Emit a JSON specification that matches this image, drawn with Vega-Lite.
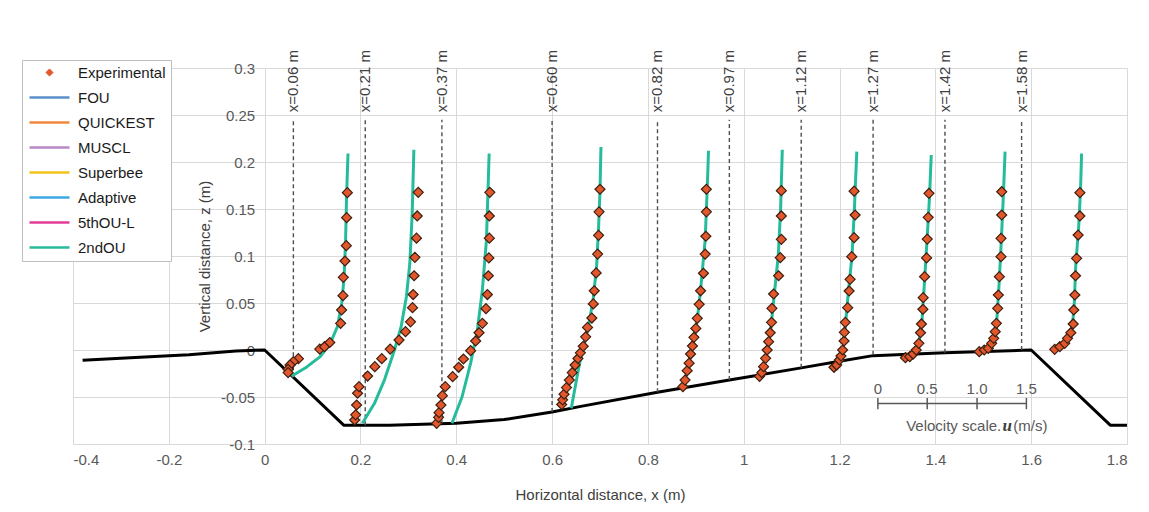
{
  "$schema": "https://vega.github.io/schema/vega-lite/v6.json",
  "width": 1054,
  "height": 376,
  "autosize": {"type": "none"},
  "padding": {"left": 73, "top": 68, "right": 22, "bottom": 68},
  "background": "white",
  "config": {
    "view": {"stroke": null},
    "font": "Liberation Sans",
    "axis": {"labelFont": "Liberation Sans", "titleFont": "Liberation Sans", "labelFontSize": 15, "titleFontSize": 15, "titleFontWeight": "normal", "labelColor": "#595959", "titleColor": "#404040", "gridColor": "#d9d9d9", "gridWidth": 1, "domain": false, "ticks": false}
  },
  "datasets": {
    "bed": [
      {"x": -0.38, "z": -0.011}, {"x": -0.25, "z": -0.0075}, {"x": -0.158, "z": -0.005}, {"x": -0.06, "z": -0.001}, {"x": 0.0, "z": 0.0},
      {"x": 0.165, "z": -0.08}, {"x": 0.26, "z": -0.08}, {"x": 0.4, "z": -0.078}, {"x": 0.5, "z": -0.074}, {"x": 0.6, "z": -0.066},
      {"x": 0.66, "z": -0.06}, {"x": 0.82, "z": -0.045}, {"x": 0.97, "z": -0.032}, {"x": 1.12, "z": -0.019}, {"x": 1.2, "z": -0.012},
      {"x": 1.27, "z": -0.006}, {"x": 1.42, "z": -0.003}, {"x": 1.6, "z": 0.0}, {"x": 1.765, "z": -0.08}, {"x": 1.8, "z": -0.08}
    ],
    "stations": [
      {"station": 0.06, "zb": -0.029, "label": "x=0.06 m"},
      {"station": 0.21, "zb": -0.08, "label": "x=0.21 m"},
      {"station": 0.37, "zb": -0.078, "label": "x=0.37 m"},
      {"station": 0.6, "zb": -0.066, "label": "x=0.60 m"},
      {"station": 0.82, "zb": -0.045, "label": "x=0.82 m"},
      {"station": 0.97, "zb": -0.032, "label": "x=0.97 m"},
      {"station": 1.12, "zb": -0.019, "label": "x=1.12 m"},
      {"station": 1.27, "zb": -0.005, "label": "x=1.27 m"},
      {"station": 1.42, "zb": -0.003, "label": "x=1.42 m"},
      {"station": 1.58, "zb": 0.0, "label": "x=1.58 m"}
    ],
    "vscale": [
      {"u": "0", "x": 1.28}, {"u": "0.5", "x": 1.383}, {"u": "1.0", "x": 1.487}, {"u": "1.5", "x": 1.59}
    ],
    "model": [
      {"s": "0.06", "x": 0.056, "z": -0.028}, {"s": "0.06", "x": 0.088, "z": -0.018}, {"s": "0.06", "x": 0.116, "z": -0.007}, {"s": "0.06", "x": 0.137, "z": 0.007}, {"s": "0.06", "x": 0.152, "z": 0.025}, {"s": "0.06", "x": 0.161, "z": 0.05}, {"s": "0.06", "x": 0.166, "z": 0.078}, {"s": "0.06", "x": 0.169, "z": 0.117}, {"s": "0.06", "x": 0.171, "z": 0.163}, {"s": "0.06", "x": 0.174, "z": 0.209},
      {"s": "0.21", "x": 0.204, "z": -0.078}, {"s": "0.21", "x": 0.229, "z": -0.057}, {"s": "0.21", "x": 0.25, "z": -0.032}, {"s": "0.21", "x": 0.271, "z": 0.0}, {"s": "0.21", "x": 0.285, "z": 0.025}, {"s": "0.21", "x": 0.296, "z": 0.057}, {"s": "0.21", "x": 0.303, "z": 0.092}, {"s": "0.21", "x": 0.308, "z": 0.145}, {"s": "0.21", "x": 0.3115, "z": 0.213},
      {"s": "0.37", "x": 0.391, "z": -0.078}, {"s": "0.37", "x": 0.412, "z": -0.05}, {"s": "0.37", "x": 0.43, "z": -0.014}, {"s": "0.37", "x": 0.444, "z": 0.021}, {"s": "0.37", "x": 0.4545, "z": 0.064}, {"s": "0.37", "x": 0.463, "z": 0.117}, {"s": "0.37", "x": 0.4686, "z": 0.209},
      {"s": "0.60", "x": 0.64, "z": -0.062}, {"s": "0.60", "x": 0.648, "z": -0.04}, {"s": "0.60", "x": 0.657, "z": -0.015}, {"s": "0.60", "x": 0.666, "z": 0.005}, {"s": "0.60", "x": 0.676, "z": 0.025}, {"s": "0.60", "x": 0.686, "z": 0.055}, {"s": "0.60", "x": 0.693, "z": 0.09}, {"s": "0.60", "x": 0.697, "z": 0.13}, {"s": "0.60", "x": 0.7, "z": 0.17}, {"s": "0.60", "x": 0.702, "z": 0.216},
      {"s": "0.82", "x": 0.8725, "z": -0.041}, {"s": "0.82", "x": 0.882, "z": -0.022}, {"s": "0.82", "x": 0.893, "z": 0.0035}, {"s": "0.82", "x": 0.903, "z": 0.032}, {"s": "0.82", "x": 0.91, "z": 0.064}, {"s": "0.82", "x": 0.9195, "z": 0.117}, {"s": "0.82", "x": 0.924, "z": 0.174}, {"s": "0.82", "x": 0.9265, "z": 0.212},
      {"s": "0.97", "x": 1.026, "z": -0.0296}, {"s": "0.97", "x": 1.04, "z": -0.018}, {"s": "0.97", "x": 1.05, "z": 0.0}, {"s": "0.97", "x": 1.057, "z": 0.025}, {"s": "0.97", "x": 1.064, "z": 0.06}, {"s": "0.97", "x": 1.072, "z": 0.1}, {"s": "0.97", "x": 1.077, "z": 0.15}, {"s": "0.97", "x": 1.0805, "z": 0.213},
      {"s": "1.12", "x": 1.186, "z": -0.019}, {"s": "1.12", "x": 1.198, "z": -0.011}, {"s": "1.12", "x": 1.207, "z": 0.0}, {"s": "1.12", "x": 1.212, "z": 0.025}, {"s": "1.12", "x": 1.218, "z": 0.06}, {"s": "1.12", "x": 1.226, "z": 0.1}, {"s": "1.12", "x": 1.231, "z": 0.15}, {"s": "1.12", "x": 1.236, "z": 0.211},
      {"s": "1.27", "x": 1.34, "z": -0.007}, {"s": "1.27", "x": 1.355, "z": -0.003}, {"s": "1.27", "x": 1.365, "z": 0.006}, {"s": "1.27", "x": 1.372, "z": 0.03}, {"s": "1.27", "x": 1.377, "z": 0.07}, {"s": "1.27", "x": 1.383, "z": 0.12}, {"s": "1.27", "x": 1.388, "z": 0.165}, {"s": "1.27", "x": 1.3914, "z": 0.2074},
      {"s": "1.42", "x": 1.494, "z": -0.002}, {"s": "1.42", "x": 1.508, "z": 0.002}, {"s": "1.42", "x": 1.52, "z": 0.012}, {"s": "1.42", "x": 1.528, "z": 0.03}, {"s": "1.42", "x": 1.533, "z": 0.07}, {"s": "1.42", "x": 1.538, "z": 0.12}, {"s": "1.42", "x": 1.542, "z": 0.165}, {"s": "1.42", "x": 1.5455, "z": 0.211},
      {"s": "1.58", "x": 1.677, "z": 0.012}, {"s": "1.58", "x": 1.686, "z": 0.025}, {"s": "1.58", "x": 1.69, "z": 0.05}, {"s": "1.58", "x": 1.693, "z": 0.09}, {"s": "1.58", "x": 1.699, "z": 0.13}, {"s": "1.58", "x": 1.703, "z": 0.17}, {"s": "1.58", "x": 1.7052, "z": 0.209}
    ],
    "exp": [
      {"s": "0.06", "x": 0.0705, "z": -0.0092}, {"s": "0.06", "x": 0.06, "z": -0.0124}, {"s": "0.06", "x": 0.053, "z": -0.016}, {"s": "0.06", "x": 0.049, "z": -0.0206}, {"s": "0.06", "x": 0.049, "z": -0.024}, {"s": "0.06", "x": 0.115, "z": 0.001}, {"s": "0.06", "x": 0.125, "z": 0.0035}, {"s": "0.06", "x": 0.136, "z": 0.008}, {"s": "0.06", "x": 0.1586, "z": 0.0284}, {"s": "0.06", "x": 0.1607, "z": 0.0426}, {"s": "0.06", "x": 0.1635, "z": 0.0578}, {"s": "0.06", "x": 0.1642, "z": 0.0773}, {"s": "0.06", "x": 0.1677, "z": 0.0947}, {"s": "0.06", "x": 0.1705, "z": 0.111}, {"s": "0.06", "x": 0.1712, "z": 0.1408}, {"s": "0.06", "x": 0.1727, "z": 0.1674},
      {"s": "0.21", "x": 0.188, "z": -0.0745}, {"s": "0.21", "x": 0.19, "z": -0.069}, {"s": "0.21", "x": 0.192, "z": -0.0585}, {"s": "0.21", "x": 0.194, "z": -0.046}, {"s": "0.21", "x": 0.197, "z": -0.039}, {"s": "0.21", "x": 0.215, "z": -0.0277}, {"s": "0.21", "x": 0.23, "z": -0.0177}, {"s": "0.21", "x": 0.2445, "z": -0.0092}, {"s": "0.21", "x": 0.262, "z": 0.001}, {"s": "0.21", "x": 0.2805, "z": 0.0106}, {"s": "0.21", "x": 0.294, "z": 0.0195}, {"s": "0.21", "x": 0.3045, "z": 0.03}, {"s": "0.21", "x": 0.3087, "z": 0.045}, {"s": "0.21", "x": 0.31, "z": 0.059}, {"s": "0.21", "x": 0.312, "z": 0.079}, {"s": "0.21", "x": 0.3136, "z": 0.0986}, {"s": "0.21", "x": 0.317, "z": 0.119}, {"s": "0.21", "x": 0.3185, "z": 0.1426}, {"s": "0.21", "x": 0.3206, "z": 0.1677},
      {"s": "0.37", "x": 0.359, "z": -0.078}, {"s": "0.37", "x": 0.363, "z": -0.0716}, {"s": "0.37", "x": 0.364, "z": -0.0667}, {"s": "0.37", "x": 0.368, "z": -0.0585}, {"s": "0.37", "x": 0.371, "z": -0.0486}, {"s": "0.37", "x": 0.377, "z": -0.039}, {"s": "0.37", "x": 0.3925, "z": -0.0284}, {"s": "0.37", "x": 0.405, "z": -0.0184}, {"s": "0.37", "x": 0.415, "z": -0.0096}, {"s": "0.37", "x": 0.43, "z": -0.0007}, {"s": "0.37", "x": 0.4405, "z": 0.0096}, {"s": "0.37", "x": 0.4475, "z": 0.0184}, {"s": "0.37", "x": 0.4545, "z": 0.0284}, {"s": "0.37", "x": 0.462, "z": 0.044}, {"s": "0.37", "x": 0.465, "z": 0.059}, {"s": "0.37", "x": 0.467, "z": 0.079}, {"s": "0.37", "x": 0.468, "z": 0.098}, {"s": "0.37", "x": 0.469, "z": 0.119}, {"s": "0.37", "x": 0.469, "z": 0.1426}, {"s": "0.37", "x": 0.47, "z": 0.1677},
      {"s": "0.60", "x": 0.62, "z": -0.058}, {"s": "0.60", "x": 0.622, "z": -0.053}, {"s": "0.60", "x": 0.625, "z": -0.047}, {"s": "0.60", "x": 0.63, "z": -0.04}, {"s": "0.60", "x": 0.636, "z": -0.032}, {"s": "0.60", "x": 0.642, "z": -0.024}, {"s": "0.60", "x": 0.648, "z": -0.016}, {"s": "0.60", "x": 0.654, "z": -0.009}, {"s": "0.60", "x": 0.659, "z": -0.003}, {"s": "0.60", "x": 0.665, "z": 0.004}, {"s": "0.60", "x": 0.67, "z": 0.014}, {"s": "0.60", "x": 0.674, "z": 0.024}, {"s": "0.60", "x": 0.683, "z": 0.034}, {"s": "0.60", "x": 0.686, "z": 0.049}, {"s": "0.60", "x": 0.688, "z": 0.063}, {"s": "0.60", "x": 0.692, "z": 0.082}, {"s": "0.60", "x": 0.695, "z": 0.102}, {"s": "0.60", "x": 0.697, "z": 0.122}, {"s": "0.60", "x": 0.698, "z": 0.147}, {"s": "0.60", "x": 0.7, "z": 0.171},
      {"s": "0.82", "x": 0.873, "z": -0.039}, {"s": "0.82", "x": 0.8775, "z": -0.032}, {"s": "0.82", "x": 0.882, "z": -0.022}, {"s": "0.82", "x": 0.886, "z": -0.014}, {"s": "0.82", "x": 0.889, "z": -0.0043}, {"s": "0.82", "x": 0.893, "z": 0.0043}, {"s": "0.82", "x": 0.896, "z": 0.0135}, {"s": "0.82", "x": 0.9, "z": 0.023}, {"s": "0.82", "x": 0.903, "z": 0.0337}, {"s": "0.82", "x": 0.907, "z": 0.0486}, {"s": "0.82", "x": 0.91, "z": 0.063}, {"s": "0.82", "x": 0.916, "z": 0.0816}, {"s": "0.82", "x": 0.9195, "z": 0.102}, {"s": "0.82", "x": 0.921, "z": 0.121}, {"s": "0.82", "x": 0.922, "z": 0.147}, {"s": "0.82", "x": 0.922, "z": 0.171},
      {"s": "0.97", "x": 1.033, "z": -0.028}, {"s": "0.97", "x": 1.0378, "z": -0.024}, {"s": "0.97", "x": 1.0414, "z": -0.0177}, {"s": "0.97", "x": 1.0456, "z": -0.0089}, {"s": "0.97", "x": 1.049, "z": 0.0}, {"s": "0.97", "x": 1.052, "z": 0.0089}, {"s": "0.97", "x": 1.0553, "z": 0.0184}, {"s": "0.97", "x": 1.058, "z": 0.0294}, {"s": "0.97", "x": 1.0588, "z": 0.0443}, {"s": "0.97", "x": 1.0623, "z": 0.0596}, {"s": "0.97", "x": 1.0728, "z": 0.079}, {"s": "0.97", "x": 1.0763, "z": 0.0982}, {"s": "0.97", "x": 1.0785, "z": 0.1177}, {"s": "0.97", "x": 1.0785, "z": 0.1426}, {"s": "0.97", "x": 1.0785, "z": 0.1695},
      {"s": "1.12", "x": 1.1884, "z": -0.0184}, {"s": "1.12", "x": 1.194, "z": -0.016}, {"s": "1.12", "x": 1.1996, "z": -0.0106}, {"s": "1.12", "x": 1.203, "z": -0.0064}, {"s": "1.12", "x": 1.2065, "z": 0.0}, {"s": "1.12", "x": 1.2095, "z": 0.0096}, {"s": "1.12", "x": 1.21, "z": 0.0188}, {"s": "1.12", "x": 1.212, "z": 0.0294}, {"s": "1.12", "x": 1.217, "z": 0.045}, {"s": "1.12", "x": 1.22, "z": 0.0628}, {"s": "1.12", "x": 1.222, "z": 0.0752}, {"s": "1.12", "x": 1.2255, "z": 0.0993}, {"s": "1.12", "x": 1.2304, "z": 0.1195}, {"s": "1.12", "x": 1.2325, "z": 0.1436}, {"s": "1.12", "x": 1.2304, "z": 0.169},
      {"s": "1.27", "x": 1.3375, "z": -0.0082}, {"s": "1.27", "x": 1.3466, "z": -0.0071}, {"s": "1.27", "x": 1.3536, "z": -0.0043}, {"s": "1.27", "x": 1.36, "z": 0.0}, {"s": "1.27", "x": 1.3655, "z": 0.0071}, {"s": "1.27", "x": 1.369, "z": 0.0184}, {"s": "1.27", "x": 1.371, "z": 0.0277}, {"s": "1.27", "x": 1.374, "z": 0.0433}, {"s": "1.27", "x": 1.3746, "z": 0.0557}, {"s": "1.27", "x": 1.3775, "z": 0.078}, {"s": "1.27", "x": 1.3817, "z": 0.098}, {"s": "1.27", "x": 1.383, "z": 0.118}, {"s": "1.27", "x": 1.385, "z": 0.1411}, {"s": "1.27", "x": 1.3866, "z": 0.1667},
      {"s": "1.42", "x": 1.4916, "z": -0.0018}, {"s": "1.42", "x": 1.502, "z": 0.0}, {"s": "1.42", "x": 1.5105, "z": 0.0018}, {"s": "1.42", "x": 1.5175, "z": 0.0071}, {"s": "1.42", "x": 1.5217, "z": 0.0124}, {"s": "1.42", "x": 1.525, "z": 0.0195}, {"s": "1.42", "x": 1.5273, "z": 0.0284}, {"s": "1.42", "x": 1.53, "z": 0.0443}, {"s": "1.42", "x": 1.5315, "z": 0.0585}, {"s": "1.42", "x": 1.5336, "z": 0.078}, {"s": "1.42", "x": 1.537, "z": 0.0993}, {"s": "1.42", "x": 1.537, "z": 0.1188}, {"s": "1.42", "x": 1.5385, "z": 0.1436}, {"s": "1.42", "x": 1.5385, "z": 0.1684},
      {"s": "1.58", "x": 1.649, "z": 0.0007}, {"s": "1.58", "x": 1.6597, "z": 0.0035}, {"s": "1.58", "x": 1.67, "z": 0.0071}, {"s": "1.58", "x": 1.6758, "z": 0.0124}, {"s": "1.58", "x": 1.6828, "z": 0.0184}, {"s": "1.58", "x": 1.6877, "z": 0.0277}, {"s": "1.58", "x": 1.689, "z": 0.0426}, {"s": "1.58", "x": 1.6912, "z": 0.0585}, {"s": "1.58", "x": 1.6926, "z": 0.079}, {"s": "1.58", "x": 1.6947, "z": 0.0975}, {"s": "1.58", "x": 1.698, "z": 0.1223}, {"s": "1.58", "x": 1.7017, "z": 0.1426}, {"s": "1.58", "x": 1.7017, "z": 0.1674}
    ]
  },
  "layer": [
    {
      "data": {"name": "bed"},
      "mark": {"type": "line", "color": "#000000", "strokeWidth": 3, "strokeJoin": "round"},
      "encoding": {
        "x": {"field": "x", "type": "quantitative", "scale": {"domain": [-0.4, 1.8], "nice": false, "zero": false},
          "axis": {"values": [-0.4, -0.2, 0, 0.2, 0.4, 0.6, 0.8, 1, 1.2, 1.4, 1.6, 1.8], "labelExpr": "'' + datum.value", "grid": true, "labelPadding": 8, "title": "Horizontal distance, x (m)", "titlePadding": 20}},
        "y": {"field": "z", "type": "quantitative", "scale": {"domain": [-0.1, 0.3], "nice": false, "zero": false},
          "axis": {"values": [-0.1, -0.05, 0, 0.05, 0.1, 0.15, 0.2, 0.25, 0.3], "labelExpr": "'' + datum.value", "grid": true, "offset": -191.6, "labelPadding": 10, "title": "Vertical distance, z (m)", "titlePadding": 8}},
        "order": {"field": "x", "type": "quantitative"}
      }
    },
    {
      "data": {"name": "stations"},
      "mark": {"type": "rule", "color": "#505050", "strokeWidth": 1.4, "strokeDash": [4, 3]},
      "encoding": {
        "x": {"field": "station", "type": "quantitative"},
        "y": {"field": "zb", "type": "quantitative"},
        "y2": {"datum": 0.245}
      }
    },
    {
      "data": {"name": "stations"},
      "mark": {"type": "text", "angle": 270, "align": "left", "baseline": "middle", "fontSize": 15, "color": "#404040", "font": "Liberation Sans"},
      "encoding": {
        "x": {"field": "station", "type": "quantitative"},
        "y": {"datum": 0.253},
        "text": {"field": "label"}
      }
    },
    {
      "data": {"name": "model"},
      "transform": [{"calculate": "'2ndOU'", "as": "series"}],
      "mark": {"type": "line", "strokeWidth": 3, "strokeJoin": "round"},
      "encoding": {
        "x": {"field": "x", "type": "quantitative"},
        "y": {"field": "z", "type": "quantitative"},
        "detail": {"field": "s"},
        "order": {"field": "z", "type": "quantitative"},
        "color": {
          "field": "series", "type": "nominal",
          "scale": {"domain": ["Experimental", "FOU", "QUICKEST", "MUSCL", "Superbee", "Adaptive", "5thOU-L", "2ndOU"],
                    "range": ["#E2582C", "#5B8FC9", "#F0883E", "#B889C6", "#F2C318", "#3BA7E5", "#E23D96", "#26BC9B"]},
          "legend": {
            "orient": "none", "legendX": -51, "legendY": -8, "title": null,
            "symbolType": "M-4,0H4", "symbolSize": 100, "symbolStrokeWidth": 2.5, "symbolOffset": 15,
            "labelFont": "Liberation Sans", "labelFontSize": 15, "labelColor": "#1a1a1a", "labelOffset": 21,
            "rowPadding": 9, "padding": 5, "strokeColor": "#bfbfbf", "fillColor": "white",
            "encode": {"symbols": {"update": {
              "shape": {"signal": "datum.value === 'Experimental' ? 'diamond' : 'M-4,0H4'"},
              "fill": {"signal": "datum.value === 'Experimental' ? '#E2582C' : 'transparent'"},
              "stroke": {"signal": "datum.value === 'Experimental' ? '#3d1f10' : scale('color', datum.value)"},
              "strokeWidth": {"signal": "datum.value === 'Experimental' ? 1 : 2.5"},
              "size": {"signal": "datum.value === 'Experimental' ? 50 : 100"}
            }}}
          }
        }
      }
    },
    {
      "data": {"name": "exp"},
      "mark": {"type": "point", "shape": "diamond", "filled": true, "fill": "#E2582C", "stroke": "#3d1f10", "strokeWidth": 1.2, "size": 100, "opacity": 1},
      "encoding": {
        "x": {"field": "x", "type": "quantitative"},
        "y": {"field": "z", "type": "quantitative"}
      }
    },
    {
      "data": {"name": "vscale"},
      "mark": {"type": "rule", "color": "#595959", "strokeWidth": 1.5},
      "encoding": {
        "x": {"aggregate": "min", "field": "x", "type": "quantitative"},
        "x2": {"aggregate": "max", "field": "x"},
        "y": {"datum": -0.057}
      }
    },
    {
      "data": {"name": "vscale"},
      "mark": {"type": "rule", "color": "#595959", "strokeWidth": 1.5},
      "encoding": {
        "x": {"field": "x", "type": "quantitative"},
        "y": {"datum": -0.051},
        "y2": {"datum": -0.063}
      }
    },
    {
      "data": {"name": "vscale"},
      "mark": {"type": "text", "fontSize": 15, "color": "#595959", "baseline": "middle", "align": "center", "font": "Liberation Sans"},
      "encoding": {
        "x": {"field": "x", "type": "quantitative"},
        "y": {"datum": -0.041},
        "text": {"field": "u"}
      }
    },
    {
      "data": {"values": [{"label": "Velocity scale."}]},
      "mark": {"type": "text", "fontSize": 15, "color": "#595959", "baseline": "middle", "align": "right", "dx": -6, "font": "Liberation Sans"},
      "encoding": {"x": {"datum": 1.55}, "y": {"datum": -0.081}, "text": {"field": "label"}}
    },
    {
      "data": {"values": [{"label": "u"}]},
      "mark": {"type": "text", "fontSize": 17, "color": "#404040", "baseline": "middle", "align": "center", "fontWeight": "bold", "fontStyle": "italic", "font": "Liberation Serif"},
      "encoding": {"x": {"datum": 1.55}, "y": {"datum": -0.081}, "text": {"field": "label"}}
    },
    {
      "data": {"values": [{"label": "(m/s)"}]},
      "mark": {"type": "text", "fontSize": 15, "color": "#595959", "baseline": "middle", "align": "left", "dx": 6, "font": "Liberation Sans"},
      "encoding": {"x": {"datum": 1.55}, "y": {"datum": -0.081}, "text": {"field": "label"}}
    }
  ]
}
